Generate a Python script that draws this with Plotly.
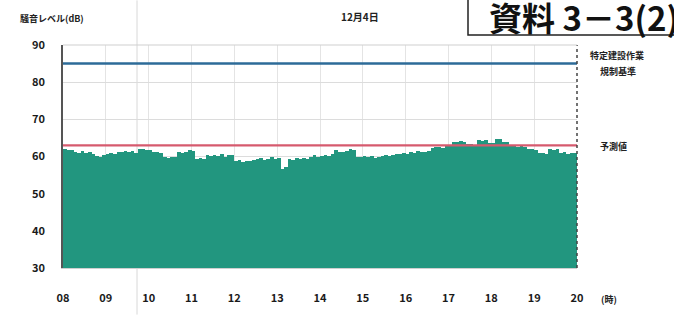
import plotly.graph_objects as go

# ---- data ----
levels_db = [
    61.9, 61.7, 61.8,
    61.3, 61.0, 61.4, 60.9, 61.2, 60.8,
    60.2, 60.0, 60.3,
    60.7, 60.9, 60.6,
    61.3, 61.1, 61.5, 61.2, 61.4, 61.0,
    61.9, 62.0, 61.7, 61.8,
    61.1, 61.3, 60.9,
    59.8, 59.6, 60.0, 59.9,
    61.1, 60.9, 61.2,
    61.7, 61.5,
    59.3, 59.5, 59.2,
    60.3, 60.1, 60.5, 60.2, 60.6, 60.0, 60.4, 60.3,
    58.8, 59.0, 58.6, 58.9, 58.7, 59.1,
    59.3, 59.6, 59.1, 59.4, 59.8, 59.2, 59.5,
    56.7, 57.2,
    59.3, 59.0, 59.5, 59.2, 59.6, 59.4,
    60.0, 60.3, 59.8, 60.2, 60.5, 60.1, 60.7,
    61.7, 61.2, 61.1, 61.4, 62.0, 61.8,
    60.0, 59.8, 60.2, 59.9, 60.1, 59.7, 60.0,
    60.2, 60.4, 60.1, 60.3,
    60.8, 60.6, 61.0, 60.7,
    61.2, 61.0, 61.4, 61.1, 61.3, 61.5,
    62.3, 62.5, 62.6, 62.4, 62.7, 62.8,
    64.0, 63.8, 64.1, 63.9,
    63.3, 63.4, 63.2,
    64.4, 64.3, 64.5,
    63.6, 63.7,
    64.7, 64.6,
    63.8, 63.9,
    62.7, 62.9, 62.6, 62.8, 62.5,
    61.9, 62.0, 61.8,
    60.9, 61.0, 60.8,
    61.9, 61.7, 62.0,
    60.9, 61.1, 60.8, 61.0, 60.9,
]
start_hour = 8
end_hour = 20
regulation_db = 85     # 特定建設作業 規制基準
predicted_db = 63      # 予測値
hour_ticks = list(range(8, 21))
hour_labels = ["08", "09", "10", "11", "12", "13", "14", "15", "16", "17", "18", "19", "20"]
y_ticks = [30, 40, 50, 60, 70, 80, 90]

step = (end_hour - start_hour) / len(levels_db)
times = [start_hour + (i + 0.5) * step for i in range(len(levels_db))]

FONT = "Noto Sans CJK JP"
W, H = 674, 317
L, R, T, B = 63, 97, 45, 47
PW, PH = W - L - R, H - T - B


def px(xp):
    return (xp - L) / PW


def py(yp):
    return (H - B - yp) / PH


fig = go.Figure()
fig.add_trace(go.Bar(
    x=times, y=levels_db, width=step,
    marker=dict(color="#22967f", line=dict(width=0)),
    showlegend=False, hoverinfo="skip",
))
fig.add_trace(go.Scatter(
    x=[start_hour, end_hour], y=[regulation_db, regulation_db], mode="lines",
    line=dict(color="#2d6b98", width=2.5), showlegend=False, hoverinfo="skip",
))
fig.add_trace(go.Scatter(
    x=[start_hour, end_hour], y=[predicted_db, predicted_db], mode="lines",
    line=dict(color="#d65a6e", width=2.2), showlegend=False, hoverinfo="skip",
))

fig.update_layout(
    width=W, height=H,
    margin=dict(l=L, r=R, t=T, b=B),
    paper_bgcolor="white", plot_bgcolor="white",
    bargap=0,
    font=dict(family=FONT, color="#222"),
    xaxis=dict(
        range=[start_hour, end_hour], tickvals=hour_ticks, ticktext=hour_labels,
        showgrid=True, gridcolor="#e4e4e4", gridwidth=1,
        showline=True, linecolor="#cfcfcf", linewidth=1,
        ticks="", ticklabelstandoff=20, zeroline=False,
        tickfont=dict(size=11, weight="bold", color="#1a1a1a"),
    ),
    yaxis=dict(
        range=[30, 90], tickvals=y_ticks,
        showgrid=True, gridcolor="#dcdcdc", gridwidth=1,
        showline=True, linecolor="#555", linewidth=1.5,
        ticks="", ticklabelstandoff=14, zeroline=False,
        tickfont=dict(size=11, weight="bold", color="#1a1a1a"),
    ),
)

# right-side dotted frame line and top line
fig.add_shape(type="line", xref="paper", yref="paper", x0=1, x1=1, y0=0, y1=1,
              line=dict(color="#444", width=1.5, dash="dot"), layer="above")
fig.add_shape(type="line", xref="paper", yref="paper", x0=0, x1=1, y0=1, y1=1,
              line=dict(color="#cfcfcf", width=1))
# faint document fold line
fig.add_shape(type="line", xref="paper", yref="paper", x0=px(137), x1=px(137),
              y0=py(H), y1=py(0), line=dict(color="#d8d8d8", width=1), layer="below")
# document label box (runs off the top and right edges, as in the scan)
fig.add_shape(type="rect", xref="paper", yref="paper",
              x0=px(468), x1=px(720), y0=py(35), y1=py(-30),
              line=dict(color="#222", width=1.5), fillcolor="white", layer="above")

ann = [
    dict(text="12月4日", x=px(360), y=py(16), size=10),
    dict(text="騒音レベル(dB)", x=px(52), y=py(18), size=9),
    dict(text="特定建設作業", x=px(617), y=py(56), size=9),
    dict(text="規制基準", x=px(618), y=py(72), size=9),
    dict(text="予測値", x=px(613), y=py(147), size=9),
    dict(text="(時)", x=px(609), y=py(302), size=9),
]
for a in ann:
    fig.add_annotation(text=a["text"], xref="paper", yref="paper", x=a["x"], y=a["y"],
                       showarrow=False, xanchor="center", yanchor="middle",
                       font=dict(family=FONT, size=a["size"], color="#222", weight="bold"))

fig.add_annotation(
    text="資料 3－3(2)", xref="paper", yref="paper", x=px(487), y=py(17),
    xanchor="left", yanchor="middle", showarrow=False,
    font=dict(family=FONT, size=33, color="#111", weight="bold"),
)

fig.write_html("out.html", config={"displayModeBar": False},
               post_script="document.body.style.margin='0px';")
